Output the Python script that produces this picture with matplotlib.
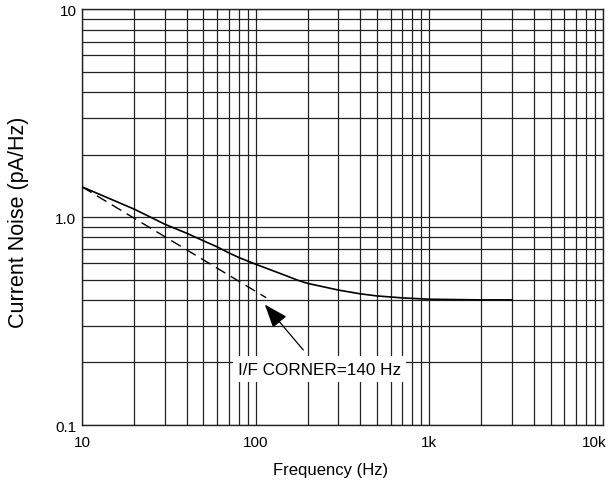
import numpy as np
import matplotlib
matplotlib.use("Agg")
import matplotlib.pyplot as plt
from matplotlib.transforms import ScaledTranslation
from matplotlib.ticker import FixedLocator, FixedFormatter, LogLocator, NullFormatter

plt.rcParams['font.family'] = ['Liberation Sans', 'DejaVu Sans']

# Datos
frecuencia = [10, 20, 30, 40, 50, 60, 70, 80, 100, 137, 179, 200, 300, 400, 500, 700, 1000, 2000, 3000]
ruido_total = [1.40, 1.093, 0.925, 0.838, 0.77, 0.72, 0.674, 0.64, 0.594, 0.538, 0.494, 0.48,
               0.446, 0.428, 0.418, 0.409, 0.403, 0.40, 0.40]

frec_1f = [10, 115]
ruido_1f = [1.40, 0.41]

xticks = [10, 100, 1000, 10000]
xtick_labels = ['10', '100', '1k', '10k']
yticks = [0.1, 1.0, 10]
ytick_labels = ['0.1', '1.0', '10']

fig = plt.figure(figsize=(6.12, 4.85), dpi=100)
ax = fig.add_axes([0.134, 0.1216, 0.851, 0.857])
ax.set_xscale('log')
ax.set_yscale('log')
ax.set_xlim(10, 10000)
ax.set_ylim(0.1, 10)

# Rejilla en todos los ticks menores y mayores
ax.xaxis.set_major_locator(FixedLocator(xticks))
ax.xaxis.set_major_formatter(FixedFormatter(xtick_labels))
ax.yaxis.set_major_locator(FixedLocator(yticks))
ax.yaxis.set_major_formatter(FixedFormatter(ytick_labels))
ax.xaxis.set_minor_locator(LogLocator(base=10, subs=np.arange(2, 10)))
ax.yaxis.set_minor_locator(LogLocator(base=10, subs=np.arange(2, 10)))
ax.xaxis.set_minor_formatter(NullFormatter())
ax.yaxis.set_minor_formatter(NullFormatter())
ax.grid(True, which='both', color='#222222', linewidth=0.9)
ax.tick_params(which='both', length=0, labelsize=11)
ax.tick_params(axis='x', pad=7)
ax.tick_params(axis='y', pad=4)

for s in ax.spines.values():
    s.set_linewidth(1.0)
    s.set_color('#222222')

ax.plot(frecuencia, ruido_total, color='black', linewidth=1.2, zorder=3)
ax.plot(frec_1f, ruido_1f, color='black', linewidth=1.0, linestyle=(0, (8, 4.5)), zorder=3)

ax.annotate('I/F CORNER=140 Hz', xy=(113, 0.38), xytext=(233, 0.186),
            ha='center', va='center', fontsize=12.3,
            bbox=dict(boxstyle='square,pad=0.3', fc='white', ec='none'),
            arrowprops=dict(arrowstyle='-|>,head_length=1.2,head_width=0.45',
                            color='black', lw=0.9, shrinkA=6, shrinkB=0),
            zorder=4)

ax.set_xlabel('Frequency (Hz)', fontsize=12)
ax.xaxis.set_label_coords(0.478, -0.089)
ax.set_ylabel('Current Noise (pA/Hz)', fontsize=15.5)
ax.yaxis.set_label_coords(-0.101, 0.49)

# desplazar un poco la etiqueta "10k" para que no se corte en el borde
fig.canvas.draw()
ultima = ax.xaxis.get_major_ticks()[-1].label1
ultima.set_transform(ultima.get_transform() + ScaledTranslation(-6 / 72, 0, fig.dpi_scale_trans))

plt.savefig('out.png', dpi=100)
